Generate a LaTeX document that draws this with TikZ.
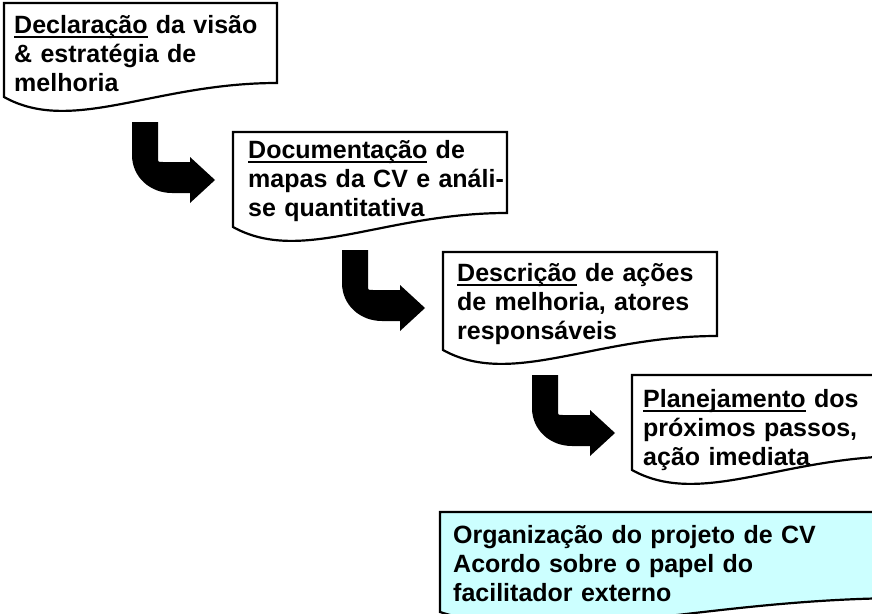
\documentclass[tikz,border=0pt]{standalone}
\usepackage{fontspec}
\setmainfont{Liberation Sans}
\usetikzlibrary{calc}

\definecolor{paleCyan}{HTML}{CCFFFF}

\newsavebox{\wordbox}
\newcommand{\firstword}[1]{\sbox{\wordbox}{#1}\rlap{\rule[-5pt]{\wd\wordbox}{2pt}}\usebox{\wordbox}}

% document sheet: #1 top left, #2 width, #3 height, #4 fill
\newcommand{\docpage}[4]{%
  \draw[docline, fill=#4] #1 -- ($#1+(#2,0)$) -- ($#1+(#2,#3-14)$)
    .. controls ($#1+(0.55*#2,#3-14)$) and ($#1+(0.25*#2,#3+38)$) .. ($#1+(0,#3)$) -- cycle;}

\tikzset{
  steptext/.style={anchor=base west, inner sep=0pt, align=left, text width=420pt,
    font=\fontsize{25}{29}\selectfont\bfseries},
  docline/.style={line width=2.2pt, line join=miter},
  bentarrow/.pic={
    \fill (0,0) -- (26,0) -- (26,36) .. controls (26,40) .. (31,40) -- (58,40) -- (58,35)
      -- (83,58) -- (58,81) -- (58,71) -- (40,71) .. controls (18,71) and (0,55) .. (0,33) -- cycle;
  },
}

\begin{document}
\begin{tikzpicture}[x=1pt, y=-1pt]
  \useasboundingbox (0,0) rectangle (872,613);
  \clip (0,0) rectangle (872,613);
  \fill[white] (0,0) rectangle (872,613);

  % sheets
  \docpage{(4,3)}{273}{94}{white}
  \docpage{(233,132)}{274}{95}{white}
  \docpage{(443,252)}{274}{98}{white}
  \docpage{(632,375)}{274}{95}{white}
  \docpage{(440,512)}{470}{100}{paleCyan}

  % bent arrows
  \pic (arrA) at (132,122) {bentarrow};
  \pic (arrB) at (342,250) {bentarrow};
  \pic (arrC) at (532,375) {bentarrow};

  % texts
  \node[steptext] (decl) at (14,33) {\firstword{Declaração} da visão\\ \& estratégia de\\ melhoria};
  \node[steptext] (docum) at (248,158) {\firstword{Documentação} de\\ mapas da CV e análi-\\ se quantitativa};
  \node[steptext] (descr) at (457,281) {\firstword{Descrição} de ações\\ de melhoria, atores\\ responsáveis};
  \node[steptext] (plan) at (643,407) {\firstword{Planejamento} dos\\ próximos passos,\\ ação imediata};
  \node[steptext] (org) at (453,543) {Organização do projeto de CV\\ Acordo sobre o papel do\\ facilitador externo};
\end{tikzpicture}
\end{document}
